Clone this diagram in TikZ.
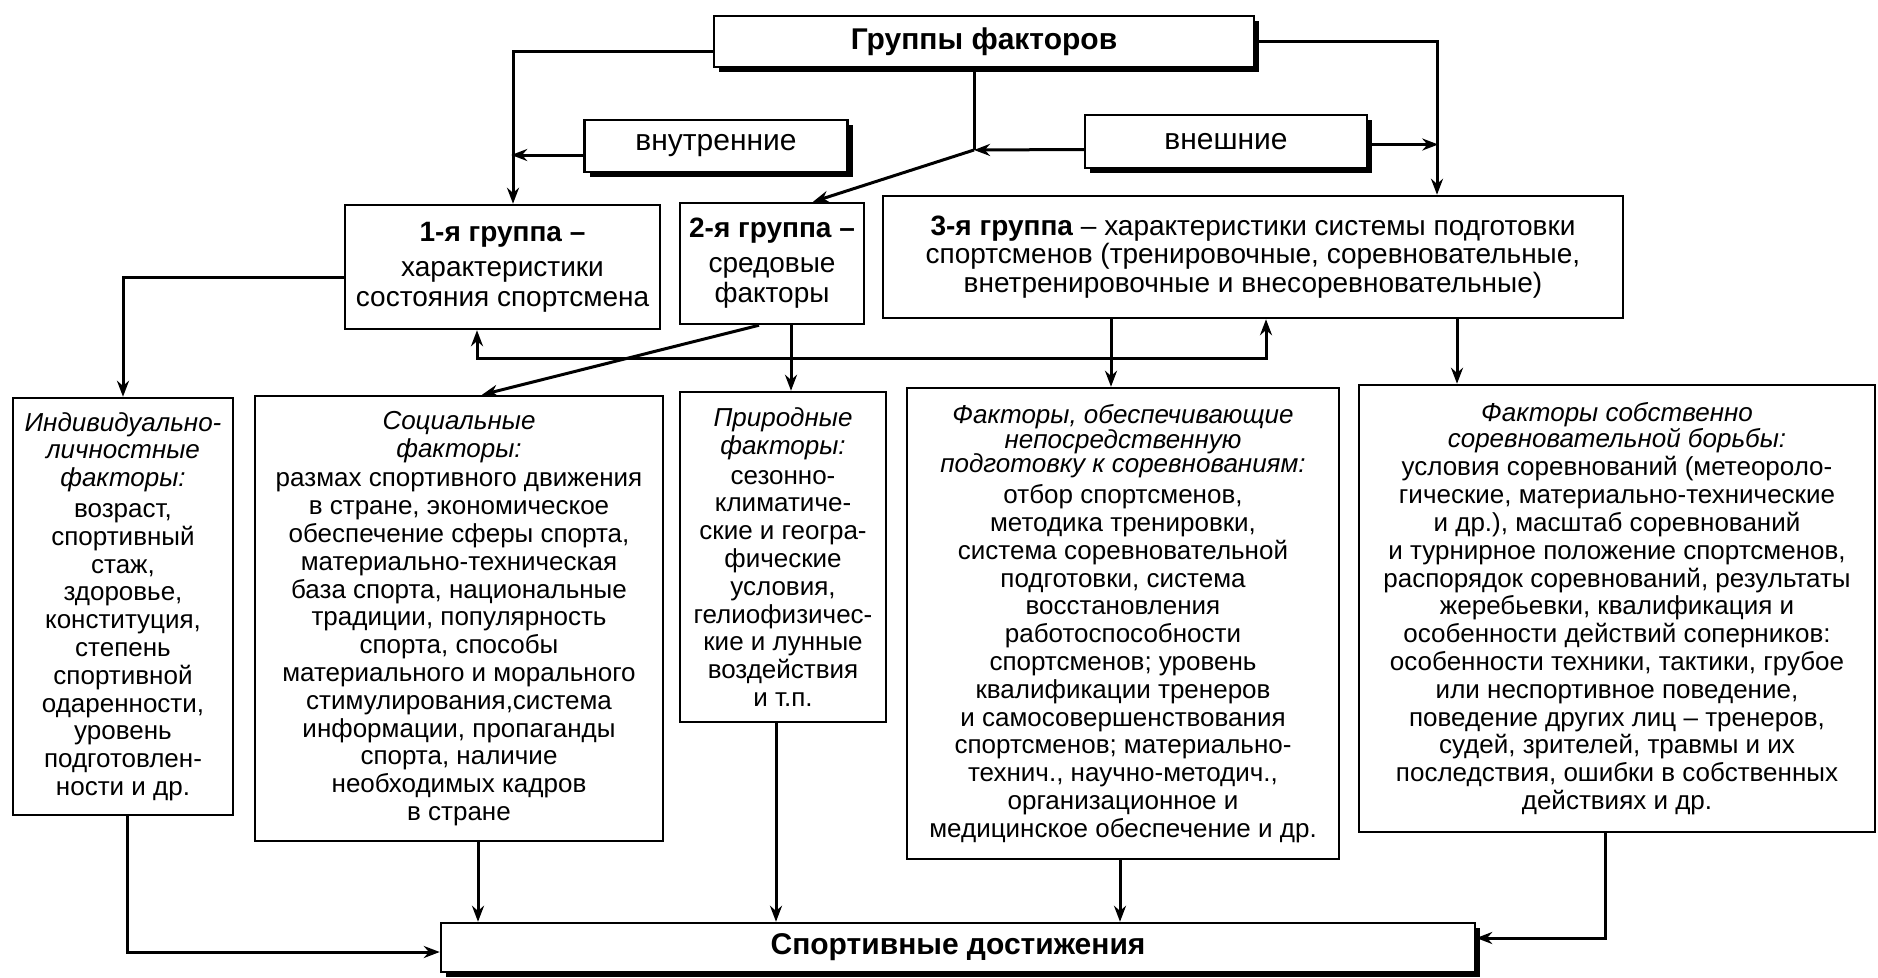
\documentclass[tikz,border=0pt]{standalone}
\usepackage{fontspec}
\setmainfont{Liberation Sans}
\usetikzlibrary{arrows.meta,shadows,calc}
\begin{document}
\begin{tikzpicture}[x=1pt,y=-1pt,
  >={Stealth[length=16pt,width=12pt]},
  box/.style={draw, line width=2.5pt, fill=white, align=center, inner sep=2pt},
  sbox/.style={box, drop shadow={shadow xshift=5pt, shadow yshift=-5pt, fill=black, opacity=1}},
  conn/.style={line width=3pt},
  arr/.style={conn,->},
  biarr/.style={conn,<->},
  big/.style={font=\fontsize{30}{32}\selectfont},
  mid/.style={font=\fontsize{28}{30}\selectfont},
  small/.style={font=\fontsize{26}{27.8}\selectfont}]
\fill[white] (0,0) rectangle (1878,977);
\useasboundingbox (0,0) rectangle (1878,977);

% top level
\node[sbox, big, minimum width=540, minimum height=51] (T) at (984,41.5) {\textbf{Группы факторов}};
\node[sbox, big, minimum width=263, minimum height=52] (VN) at (716,146) {внутренние};
\node[sbox, big, minimum width=282, minimum height=53] (VS) at (1226,141.5) {внешние};
\coordinate (J) at (974,150);

% groups
\node[box, mid, minimum width=315, minimum height=124] (G1) at (502.5,267)
  {\textbf{1-я группа –}\\[5pt] характеристики\\ состояния спортсмена};
\node[box, mid, minimum width=184, minimum height=121] (G2) at (772,263.5)
  {\textbf{2-я группа –}\\[5pt] средовые\\ факторы};
\node[box, mid, font=\fontsize{28}{28.8}\selectfont, minimum width=740, minimum height=122] (G3) at (1253,257)
  {\textbf{3-я группа} – характеристики системы подготовки\\ спортсменов (тренировочные, соревновательные,\\ внетренировочные и внесоревновательные)};

% factor boxes
\node[box, small, minimum width=220, minimum height=417] (I) at (123,606.5)
  {\textit{Индивидуально-}\\ \textit{личностные}\\ \textit{факторы:}\\[3pt] возраст,\\ спортивный\\ стаж,\\ здоровье,\\ конституция,\\ степень\\ спортивной\\ одаренности,\\ уровень\\ подготовлен-\\ ности и др.};
\node[box, small, minimum width=408, minimum height=445] (S) at (459,618.5)
  {\textit{Социальные}\\ \textit{факторы:}\\[2pt] размах спортивного движения\\ в стране, экономическое\\ обеспечение сферы спорта,\\ материально-техническая\\ база спорта, национальные\\ традиции, популярность\\ спорта, способы\\ материального и морального\\ стимулирования,система\\ информации, пропаганды\\ спорта, наличие\\ необходимых кадров\\ в стране};
\node[box, small, minimum width=206, minimum height=330] (P) at (783,557)
  {\textit{Природные}\\ \textit{факторы:}\\[2pt] сезонно-\\ климатиче-\\ ские и геогра-\\ фические\\ условия,\\ гелиофизичес-\\ кие и лунные\\ воздействия\\ и т.п.};
\node[box, small, minimum width=432, minimum height=471] (FO) at (1123,623.5)
  {\textit{Факторы, обеспечивающие}\\[-3pt] \textit{непосредственную}\\[-3pt] \textit{подготовку к соревнованиям:}\\[3pt] отбор спортсменов,\\ методика тренировки,\\ система соревновательной\\ подготовки, система\\ восстановления\\ работоспособности\\ спортсменов; уровень\\ квалификации тренеров\\ и самосовершенствования\\ спортсменов; материально-\\ технич., научно-методич.,\\ организационное и\\ медицинское обеспечение и др.};
\node[box, small, minimum width=516, minimum height=447] (FS) at (1617,608.5)
  {\textit{Факторы собственно}\\[-2pt] \textit{соревновательной борьбы:}\\[1pt] условия соревнований (метеороло-\\ гические, материально-технические\\ и др.), масштаб соревнований\\ и турнирное положение спортсменов,\\ распорядок соревнований, результаты\\ жеребьевки, квалификация и\\ особенности действий соперников:\\ особенности техники, тактики, грубое\\ или неспортивное поведение,\\ поведение других лиц – тренеров,\\ судей, зрителей, травмы и их\\ последствия, ошибки в собственных\\ действиях и др.};

% bottom
\node[sbox, big, minimum width=1034, minimum height=49] (B) at (958,947.5) {\textbf{Спортивные достижения}};

% connectors top
\draw[arr] ([yshift=-10pt]T.west) -| ([xshift=10.5pt]G1.north);
\draw[arr] ([yshift=-9pt]VN.west) -- ++(-72,0);
\draw[arr] (T.east) -| ([xshift=184pt]G3.north);
\draw[arr] ([yshift=-3pt]VS.east) -- ++(70,0);
\draw[conn] (T.south -| J) -- (J);
\draw[arr] ([yshift=-8pt]VS.west) -- (J);
\draw[arr] (J) -- ([xshift=41pt]G2.north);

% connectors middle
\draw[arr] ([yshift=-10pt]G1.west) -| (I.north);
\draw[biarr] ([xshift=-25.5pt]G1.south) -- ++(0,28) -| ([xshift=13pt]G3.south);
\draw[arr] ([xshift=-13pt]G2.south) -- ([xshift=23pt]S.north);
\draw[arr] ([xshift=19pt]G2.south) -- ([xshift=19pt]G2.south |- P.north);
\draw[arr] ([xshift=-12pt]FO.north |- G3.south) -- ([xshift=-12pt]FO.north);
\draw[arr] ([xshift=-160pt]FS.north |- G3.south) -- ([xshift=-160pt]FS.north);

% connectors bottom
\draw[arr] ([xshift=4pt]I.south) |- ([yshift=-4.5pt]B.west);
\draw[arr] ([xshift=19pt]S.south) -- ([xshift=19pt]S.south |- B.north);
\draw[arr] ([xshift=-7pt]P.south) -- ([xshift=-7pt]P.south |- B.north);
\draw[arr] ([xshift=-3pt]FO.south) -- ([xshift=-3pt]FO.south |- B.north);
\draw[arr] ([xshift=-12pt]FS.south) |- ([yshift=9.5pt]B.east);
\end{tikzpicture}
\end{document}
